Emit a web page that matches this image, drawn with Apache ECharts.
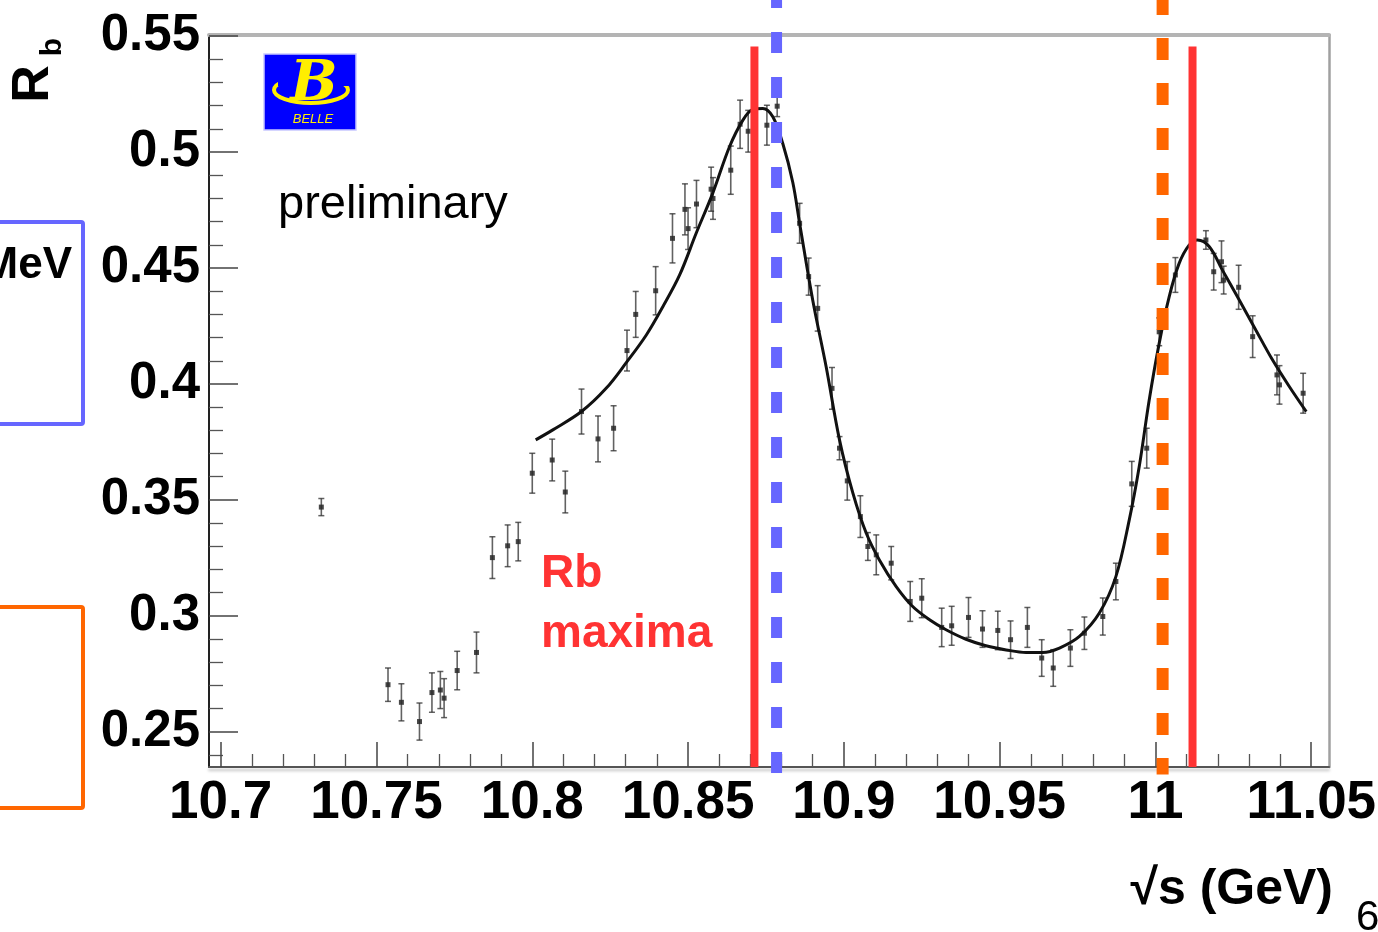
<!DOCTYPE html>
<html>
<head>
<meta charset="utf-8">
<script src="https://cdn.jsdelivr.net/npm/echarts@6/dist/echarts.min.js"></script>
<style>
html,body{margin:0;padding:0;background:#fff;}
#chart{width:1378px;height:932px;}
</style>
</head>
<body>
<div id="chart"></div>
<script>
// ---- data ----
const xTickLabels = [10.7, 10.75, 10.8, 10.85, 10.9, 10.95, 11, 11.05];
const yTickLabels = [0.25, 0.3, 0.35, 0.4, 0.45, 0.5, 0.55];

const pointsX = [10.7323,10.7537,10.7580,10.7638,10.7678,10.7705,10.7717,10.7759,10.7821,10.7872,
  10.7921,10.7955,10.8000,10.8064,10.8106,10.8158,10.8211,10.8261,10.8304,10.8332,
  10.8396,10.8450,10.8490,10.8500,10.8527,10.8574,10.8580,10.8637,10.8667,10.8693,
  10.8753,10.8786,10.8858,10.8887,10.8916,10.8962,10.8986,10.9011,10.9053,10.9077,
  10.9104,10.9152,10.9213,10.9250,10.9314,10.9346,10.9400,10.9445,10.9494,10.9535,
  10.9589,10.9635,10.9672,10.9727,10.9772,10.9831,10.9873,10.9924,10.9972,11.0012,
  11.0064,11.0162,11.0187,11.0212,11.0219,11.0267,11.0312,11.0390,11.0398,11.0474];
const pointsY = [0.3469,0.2703,0.2627,0.2544,0.2669,0.2680,0.2645,0.2764,0.2842,0.3251,
  0.3302,0.3320,0.3615,0.3672,0.3534,0.3881,0.3763,0.3809,0.4144,0.4300,
  0.4402,0.4628,0.4753,0.4670,0.4776,0.4840,0.4800,0.4922,0.5120,0.5090,
  0.5116,0.5198,0.4693,0.4463,0.4326,0.3981,0.3723,0.3582,0.3428,0.3299,
  0.3263,0.3227,0.3062,0.3076,0.2950,0.2957,0.2993,0.2943,0.2937,0.2897,
  0.2950,0.2818,0.2775,0.2861,0.2925,0.2997,0.3148,0.3569,0.3723,0.4225,
  0.4470,0.4621,0.4484,0.4527,0.4448,0.4417,0.4204,0.4039,0.3996,0.3960];
const pointsErr = [0.0037,0.0072,0.0080,0.0080,0.0085,0.0080,0.0084,0.0083,0.0088,0.0090,
  0.0090,0.0083,0.0086,0.0090,0.0090,0.0097,0.0099,0.0097,0.0088,0.0099,
  0.0104,0.0106,0.0110,0.0090,0.0102,0.0095,0.0090,0.0104,0.0104,0.0090,
  0.0086,0.0045,0.0086,0.0080,0.0098,0.0090,0.0050,0.0083,0.0090,0.0060,
  0.0086,0.0072,0.0086,0.0084,0.0083,0.0084,0.0086,0.0079,0.0083,0.0081,
  0.0086,0.0079,0.0079,0.0079,0.0070,0.0080,0.0079,0.0097,0.0086,0.0060,
  0.0075,0.0040,0.0079,0.0090,0.0060,0.0095,0.0090,0.0086,0.0083,0.0086];

const curveX = [10.8011,10.8066,10.8158,10.8237,10.8304,10.8366,10.8419,10.8473,10.8526,10.8579,
  10.8633,10.8676,10.8708,10.8740,10.8772,10.8804,10.8836,10.8858,10.8900,10.8943,
  10.8986,10.9029,10.9072,10.9114,10.9168,10.9221,10.9275,10.9328,10.9392,10.9456,
  10.9521,10.9585,10.9638,10.9692,10.9756,10.9820,10.9873,10.9916,10.9948,10.9980,
  11.0012,11.0044,11.0076,11.0108,11.0135,11.0173,11.0215,11.0269,11.0322,11.0376,
  11.0430,11.0484];
const curveY = [0.3759,0.3802,0.3881,0.3981,0.4096,0.4211,0.4333,0.4470,0.4650,0.4822,
  0.5023,0.5138,0.5184,0.5188,0.5152,0.5037,0.4870,0.4693,0.4362,0.4075,
  0.3759,0.3529,0.3356,0.3241,0.3126,0.3040,0.2983,0.2940,0.2899,0.2871,
  0.2853,0.2842,0.2842,0.2861,0.2911,0.3012,0.3169,0.3414,0.3644,0.3931,
  0.4175,0.4376,0.4520,0.4599,0.4621,0.4592,0.4491,0.4362,0.4233,0.4103,
  0.3988,0.3881];

const rbMaximaX = [10.8713, 11.0119];   // red solid lines
const blueLineX = [10.8784];            // blue dashed line
const orangeLineX = [11.0023];          // orange dashed line

// ---- axis ranges ----
const X_MIN = 10.69625, X_MAX = 11.0557;
const Y_MIN = 0.2348, Y_MAX = 0.5505;

function minorTicks(from, to, step, majors) {
  const out = [];
  const n = Math.round((to - from) / step);
  for (let i = 0; i <= n; i++) {
    const v = Math.round((from + i * step) * 1000) / 1000;
    if (!majors.some(m => Math.abs(m - v) < 1e-6)) out.push(v);
  }
  return out;
}
const xMinor = minorTicks(10.70, 11.05, 0.01, xTickLabels);
const yMinor = minorTicks(0.24, 0.55, 0.01, yTickLabels);

const SANS = "'Liberation Sans',Arial,Helvetica,sans-serif";

function vline(color, width, dash, dashOffset, yTop, yBot) {
  return function (params, api) {
    const x = api.value(0);
    const a = api.coord([x, yTop]);
    const b = api.coord([x, yBot]);
    return {
      type: 'line',
      shape: { x1: a[0], y1: a[1], x2: b[0], y2: b[1] },
      style: { stroke: color, lineWidth: width, lineDash: dash, lineDashOffset: dashOffset, lineCap: 'butt' }
    };
  };
}

const chart = echarts.init(document.getElementById('chart'), null, { renderer: 'canvas' });

const option = {
  animation: false,
  backgroundColor: '#ffffff',
  grid: { left: 209, right: 49, top: 35, bottom: 165, containLabel: false, outerBoundsMode: 'none' },
  xAxis: [
    {
      type: 'value', min: X_MIN, max: X_MAX, position: 'bottom',
      splitLine: { show: false },
      axisLine: { show: true, onZero: false, lineStyle: { color: '#555', width: 2, shadowColor: 'rgba(0,0,0,0.25)', shadowBlur: 3, shadowOffsetY: 3 } },
      axisTick: { show: true, inside: true, length: 25, customValues: xTickLabels, lineStyle: { color: '#444', width: 1.5 } },
      axisLabel: { show: true, customValues: xTickLabels, margin: 10, color: '#000', fontSize: 53, fontWeight: 'bold', fontFamily: SANS, hideOverlap: false }
    },
    {
      type: 'value', min: X_MIN, max: X_MAX, position: 'bottom',
      splitLine: { show: false }, axisLine: { show: false },
      axisTick: { show: true, inside: true, length: 13, customValues: xMinor, lineStyle: { color: '#555', width: 1.3 } },
      axisLabel: { show: false }
    },
    {
      type: 'value', min: X_MIN, max: X_MAX, position: 'top',
      splitLine: { show: false },
      axisLine: { show: true, onZero: false, lineStyle: { color: '#b4b4b4', width: 4 } },
      axisTick: { show: false }, axisLabel: { show: false }
    }
  ],
  yAxis: [
    {
      type: 'value', min: Y_MIN, max: Y_MAX, position: 'left',
      splitLine: { show: false },
      axisLine: { show: true, onZero: false, lineStyle: { color: '#222', width: 2 } },
      axisTick: { show: true, inside: true, length: 29, customValues: yTickLabels, lineStyle: { color: '#444', width: 1.5 } },
      axisLabel: { show: true, customValues: yTickLabels, margin: 9, color: '#000', fontSize: 51, fontWeight: 'bold', fontFamily: SANS, hideOverlap: false }
    },
    {
      type: 'value', min: Y_MIN, max: Y_MAX, position: 'left',
      splitLine: { show: false }, axisLine: { show: false },
      axisTick: { show: true, inside: true, length: 14, customValues: yMinor, lineStyle: { color: '#555', width: 1.3 } },
      axisLabel: { show: false }
    },
    {
      type: 'value', min: Y_MIN, max: Y_MAX, position: 'right',
      splitLine: { show: false },
      axisLine: { show: true, onZero: false, lineStyle: { color: '#a0a0a0', width: 2.5 } },
      axisTick: { show: false }, axisLabel: { show: false }
    }
  ],
  series: [
    {
      name: 'data', type: 'custom', xAxisIndex: 0, yAxisIndex: 0, z: 3,
      encode: { x: 0, y: 1 },
      data: pointsX.map((x, i) => [x, pointsY[i], pointsErr[i]]),
      renderItem: function (params, api) {
        const x = api.value(0), y = api.value(1), e = api.value(2);
        const p = api.coord([x, y]);
        const lo = api.coord([x, y - e]);
        const hi = api.coord([x, y + e]);
        const c = 'rgba(45,45,45,0.75)';
        return {
          type: 'group',
          children: [
            { type: 'line', shape: { x1: p[0], y1: lo[1], x2: p[0], y2: hi[1] }, style: { stroke: c, lineWidth: 1.6 } },
            { type: 'line', shape: { x1: p[0] - 3, y1: lo[1], x2: p[0] + 3, y2: lo[1] }, style: { stroke: c, lineWidth: 1.5 } },
            { type: 'line', shape: { x1: p[0] - 3, y1: hi[1], x2: p[0] + 3, y2: hi[1] }, style: { stroke: c, lineWidth: 1.5 } },
            { type: 'rect', shape: { x: p[0] - 2.5, y: p[1] - 2.5, width: 5, height: 5 }, style: { fill: 'rgba(40,40,40,0.85)' } }
          ]
        };
      }
    },
    {
      name: 'fit', type: 'line', xAxisIndex: 0, yAxisIndex: 0, z: 4,
      data: curveX.map((x, i) => [x, curveY[i]]),
      smooth: 0.35, showSymbol: false, symbol: 'none',
      lineStyle: { color: '#111', width: 3 }
    },
    {
      name: 'Rb maxima', type: 'custom', xAxisIndex: 0, yAxisIndex: 0, z: 6, clip: false,
      encode: { x: 0, y: 1 },
      data: rbMaximaX.map(x => [x, 0.4]),
      renderItem: vline('#ff3333', 8, null, 0, 0.5455, 0.2348)
    },
    {
      name: 'blue', type: 'custom', xAxisIndex: 0, yAxisIndex: 0, z: 6, clip: false,
      encode: { x: 0, y: 1 },
      data: blueLineX.map(x => [x, 0.4]),
      renderItem: vline('#6666ff', 11, [21, 24], 13, 0.5656, 0.2316)
    },
    {
      name: 'orange', type: 'custom', xAxisIndex: 0, yAxisIndex: 0, z: 6, clip: false,
      encode: { x: 0, y: 1 },
      data: orangeLineX.map(x => [x, 0.4]),
      renderItem: vline('#ff6600', 12, [22, 23], 7, 0.5656, 0.2316)
    }
  ],
  graphic: [
    // left boxes (cut-off panels)
    { type: 'rect', shape: { x: -10, y: 222, width: 93, height: 202, r: 2 }, style: { fill: 'none', stroke: '#6666ff', lineWidth: 4 }, z: 10 },
    { type: 'rect', shape: { x: -10, y: 607, width: 93, height: 201, r: 2 }, style: { fill: 'none', stroke: '#ff6600', lineWidth: 4 }, z: 10 },
    { type: 'text', style: { text: 'MeV', x: 72, y: 266, textAlign: 'right', textVerticalAlign: 'middle', font: 'bold 44px ' + SANS, fill: '#000' }, z: 10 },
    // y axis title R_b (rotated)
    { type: 'text', x: 34, y: 84, rotation: Math.PI / 2, style: { text: 'R', textAlign: 'center', textVerticalAlign: 'middle', font: 'bold 52px ' + SANS, fill: '#000' }, z: 10 },
    { type: 'text', x: 53, y: 47, rotation: Math.PI / 2, style: { text: 'b', textAlign: 'center', textVerticalAlign: 'middle', font: 'bold 30px ' + SANS, fill: '#000' }, z: 10 },
    // x axis title
    { type: 'text', style: { text: '\u221As (GeV)', x: 1333, y: 890, textAlign: 'right', textVerticalAlign: 'middle', font: 'bold 50px ' + SANS, fill: '#000' }, z: 10 },
    { type: 'text', style: { text: '6', x: 1356, y: 918, textAlign: 'left', textVerticalAlign: 'middle', font: '42px ' + SANS, fill: '#000' }, z: 10 },
    // annotations
    { type: 'text', style: { text: 'preliminary', x: 278, y: 205, textAlign: 'left', textVerticalAlign: 'middle', font: '47px ' + SANS, fill: '#000' }, z: 10 },
    { type: 'text', style: { text: 'Rb', x: 541, y: 574, textAlign: 'left', textVerticalAlign: 'middle', font: 'bold 46px ' + SANS, fill: '#ff3333' }, z: 10 },
    { type: 'text', style: { text: 'maxima', x: 541, y: 634, textAlign: 'left', textVerticalAlign: 'middle', font: 'bold 46px ' + SANS, fill: '#ff3333' }, z: 10 },
    // Belle logo
    { type: 'rect', shape: { x: 264, y: 54, width: 92, height: 76 }, style: { fill: '#0000ff', stroke: '#c8c8ff', lineWidth: 1.5 }, z: 10 },
    { type: 'ellipse', shape: { cx: 311, cy: 90, rx: 37, ry: 13 }, style: { fill: 'none', stroke: '#ffee00', lineWidth: 4 }, z: 11 },
    { type: 'rect', shape: { x: 278, y: 70, width: 76, height: 16 }, style: { fill: '#0000ff' }, z: 11 },
    { type: 'text', style: { text: 'B', x: 314, y: 85, textAlign: 'center', textVerticalAlign: 'middle', font: 'italic bold 56px "DejaVu Serif", serif', fill: '#ffee00' }, z: 12 },
    { type: 'text', style: { text: 'BELLE', x: 313, y: 119, textAlign: 'center', textVerticalAlign: 'middle', font: 'italic 13px ' + SANS, fill: '#ffee00' }, z: 12 }
  ]
};
chart.setOption(option);
</script>
</body>
</html>
